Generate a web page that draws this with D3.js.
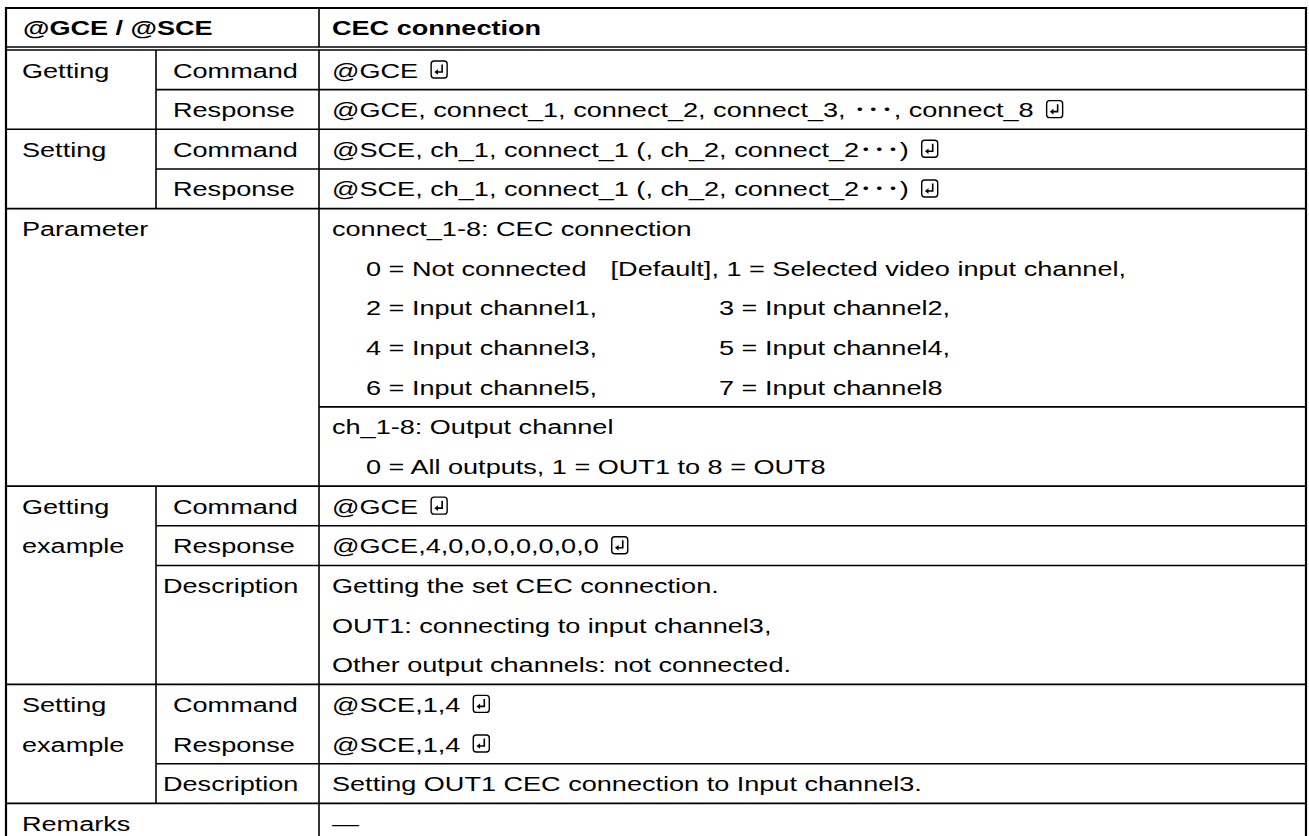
<!DOCTYPE html>
<html>
<head>
<meta charset="utf-8">
<script src="https://cdn.jsdelivr.net/npm/d3@7/dist/d3.min.js"></script>
<style>
  html, body { margin: 0; padding: 0; background: #fff; }
  svg { display: block; }
  text { font-family: Arial, "Liberation Sans", "Noto Sans CJK JP", sans-serif; font-size: 21px; fill: #000; }
</style>
</head>
<body>
<svg id="chart" width="1309" height="836"></svg>
<script>
// ---------- data ----------
const headerCells = ["@GCE / @SCE", "CEC connection"];

const col1Labels = [["Getting"], ["Setting"], ["Parameter"], ["Getting", "example"], ["Setting", "example"], ["Remarks"]];
const col1Starts = [0, 2, 4, 11, 16, 19];
const col1Spans  = [2, 2, 7, 5, 3, 1];
const col1Merged = [false, false, true, false, false, true];

const col2Labels = ["Command", "Response", "Command", "Response", "Command", "Response", "Description", "Command", "Response", "Description"];
const col2Starts = [0, 1, 2, 3, 11, 12, 13, 16, 17, 18];
const col2Spans  = [1, 1, 1, 1, 1, 1, 3, 1, 1, 1];

// column 3 text lines: [text, indent level, hasReturnKey]
const col3Lines = [
  ["@GCE", 0, true],
  ["@GCE, connect_1, connect_2, connect_3,  \uFF65\uFF65\uFF65, connect_8", 0, true],
  ["@SCE, ch_1, connect_1 (, ch_2, connect_2\uFF65\uFF65\uFF65)", 0, true],
  ["@SCE, ch_1, connect_1 (, ch_2, connect_2\uFF65\uFF65\uFF65)", 0, true],
  ["connect_1-8: CEC connection", 0, false],
  ["0 = Not connected", 1, false],
  ["2 = Input channel1,", 1, false],
  ["4 = Input channel3,", 1, false],
  ["6 = Input channel5,", 1, false],
  ["ch_1-8: Output channel", 0, false],
  ["0 = All outputs, 1 = OUT1 to 8 = OUT8", 1, false],
  ["@GCE", 0, true],
  ["@GCE,4,0,0,0,0,0,0,0", 0, true],
  ["Getting the set CEC connection.", 0, false],
  ["OUT1: connecting to input channel3,", 0, false],
  ["Other output channels: not connected.", 0, false],
  ["@SCE,1,4", 0, true],
  ["@SCE,1,4", 0, true],
  ["Setting OUT1 CEC connection to Input channel3.", 0, false],
  ["\u2015", 0, false]
];
// second-column texts in the parameter block (aligned on the tab stop)
const tabLines = [5, 6, 7, 8];
const tabPrefix = ["[Default], ", "", "", ""];
const tabTexts = ["1 = Selected video input channel,", "3 = Input channel2,", "5 = Input channel4,", "7 = Input channel8"];

// ---------- layout ----------
const svg = d3.select("#chart");
const SX = 1.29;                       // horizontal glyph stretch seen in the reference
const colEdges = [6, 156, 319, 1306];
const xs = d3.scaleOrdinal().domain([0, 1, 2, 3]).range(colEdges);
const tabScale = d3.scaleOrdinal().domain([0, 1, 2]).range([332, 366, 719]);
const yHead = d3.scaleLinear().domain([0, 1]).range([8, 47]);
const y = d3.scaleLinear().domain([0, 20]).range([50, 50 + 20 * 39.65]);
const baseOff = 27.5;

function txt(x, yy, s, bold) {
  const g = svg.append("g").attr("transform", `translate(${x},${yy}) scale(${SX},1)`);
  const t = g.append("text").attr("x", 0).attr("y", 0).text(s);
  if (bold) t.attr("font-weight", "bold");
  return t.node().getComputedTextLength() * SX;
}

// header text
txt(xs(0) + 17, yHead(0) + 27, headerCells[0], true);
txt(tabScale(0), yHead(0) + 27, headerCells[1], true);

// col1 labels
col1Labels.forEach((lab, i) => {
  lab.forEach((t, k) => txt(xs(0) + 16, y(col1Starts[i] + k) + baseOff, t));
});
// col2 labels
col2Labels.forEach((t, i) => {
  const off = t === "Description" ? 7 : 17;
  txt(xs(1) + off, y(col2Starts[i]) + baseOff, t);
});

// return key icon
function retKey(x, yy) {
  const k = svg.append("g").attr("transform", `translate(${x},${yy})`);
  k.append("rect").attr("x", 0).attr("y", 0).attr("width", 16).attr("height", 17).attr("rx", 3)
    .attr("fill", "none").attr("stroke", "#000").attr("stroke-width", 1.4);
  k.append("path").attr("d", "M11,3.5 V11 H6").attr("fill", "none").attr("stroke", "#000").attr("stroke-width", 1.6);
  k.append("path").attr("d", "M3.2,11 L6.8,8.2 L6.8,13.8 Z").attr("fill", "#000");
}

// col3 lines
col3Lines.forEach((d, i) => {
  const [t, lvl, ret] = d;
  const w = txt(tabScale(lvl), y(i) + baseOff, t);
  if (ret) retKey(tabScale(lvl) + w + 13, y(i) + 11);
});
// tab column texts
tabLines.forEach((ln, i) => {
  if (tabPrefix[i]) {
    const probe = svg.append("text").attr("opacity", 0).text(tabPrefix[i]);
    const pw = probe.node().getComputedTextLength() * SX;
    probe.remove();
    txt(tabScale(2) - pw, y(ln) + baseOff, tabPrefix[i] + tabTexts[i]);
  } else {
    txt(tabScale(2), y(ln) + baseOff, tabTexts[i]);
  }
});

// ---------- borders ----------
const lines = svg.append("g").attr("stroke", "#000").attr("fill", "none");
const sw = 1.6;
lines.append("line").attr("x1", xs(0) - 1).attr("x2", xs(3) + 1).attr("y1", yHead(0)).attr("y2", yHead(0)).attr("stroke-width", 2.2);
lines.append("line").attr("x1", xs(0)).attr("x2", xs(3)).attr("y1", yHead(1)).attr("y2", yHead(1)).attr("stroke-width", sw);
lines.append("line").attr("x1", xs(0)).attr("x2", xs(3)).attr("y1", y(0)).attr("y2", y(0)).attr("stroke-width", sw);
lines.append("line").attr("x1", xs(2)).attr("x2", xs(2)).attr("y1", yHead(0)).attr("y2", yHead(1)).attr("stroke-width", sw);
lines.append("line").attr("x1", xs(0)).attr("x2", xs(0)).attr("y1", yHead(0) - 1).attr("y2", 836).attr("stroke-width", 2.2);
lines.append("line").attr("x1", xs(3)).attr("x2", xs(3)).attr("y1", yHead(0) - 1).attr("y2", 836).attr("stroke-width", 2.2);
lines.append("line").attr("x1", xs(2)).attr("x2", xs(2)).attr("y1", y(0)).attr("y2", 836).attr("stroke-width", sw);
col1Labels.forEach((lab, i) => {
  if (!col1Merged[i]) {
    lines.append("line").attr("x1", xs(1)).attr("x2", xs(1))
      .attr("y1", y(col1Starts[i])).attr("y2", y(col1Starts[i] + col1Spans[i])).attr("stroke-width", sw);
  }
});
col1Starts.forEach((s, i) => {
  const e = s + col1Spans[i];
  if (e < 20) lines.append("line").attr("x1", xs(0)).attr("x2", xs(3)).attr("y1", y(e)).attr("y2", y(e)).attr("stroke-width", sw);
});
col2Starts.forEach((s, i) => {
  const e = s + col2Spans[i];
  if (!col1Starts.some((c, j) => c + col1Spans[j] === e) && s !== 16) {
    lines.append("line").attr("x1", xs(1)).attr("x2", xs(3)).attr("y1", y(e)).attr("y2", y(e)).attr("stroke-width", sw);
  }
});
lines.append("line").attr("x1", xs(2)).attr("x2", xs(3)).attr("y1", y(9)).attr("y2", y(9)).attr("stroke-width", sw);
</script>
</body>
</html>
